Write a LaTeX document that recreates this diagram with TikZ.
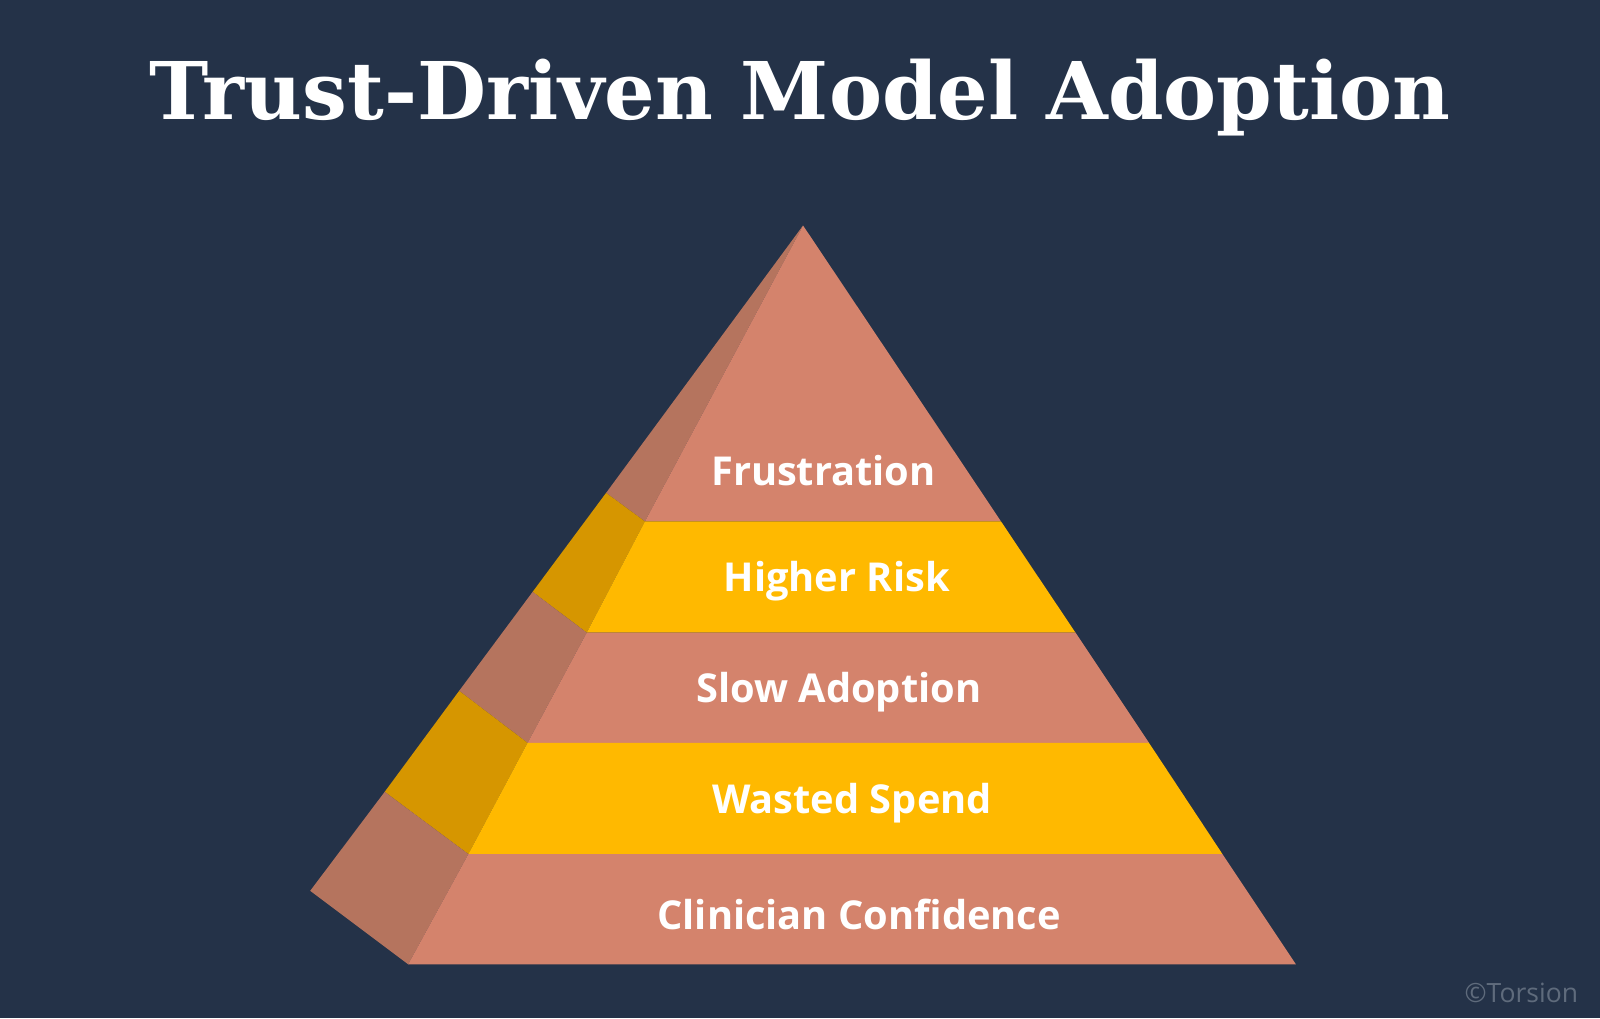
\documentclass[tikz,border=0pt]{standalone}
\usepackage{fontspec}
\setmainfont{DejaVu Serif}
\newfontfamily\labfont{Open Sans}
\definecolor{bg}{HTML}{243248}
\definecolor{sal}{HTML}{D4836C}
\definecolor{yel}{HTML}{FFB900}
\definecolor{ssal}{HTML}{B5745E}
\definecolor{syel}{HTML}{D69600}
\definecolor{cgray}{HTML}{5F6B7C}
\tikzset{lab/.style={text=white,font=\labfont\bfseries\fontsize{39}{41}\selectfont}}
\begin{document}
\begin{tikzpicture}[x=1pt,y=-1pt]
\fill[bg] (0,0) rectangle (1568,998);
\useasboundingbox (0,0) rectangle (1568,998);
\node[text=white,font=\bfseries\fontsize{78}{88}\selectfont] (title) at (784,96) {Trust-Driven Model Adoption};
% side face bands
\coordinate (A) at (787,221);
\fill[ssal] (A) -- (594,483) -- (632,511) -- cycle;
\fill[syel] (594,483) -- (522,580) -- (575,620) -- (632,511) -- cycle;
\fill[ssal] (522,580) -- (450,677) -- (517,728) -- (575,620) -- cycle;
\fill[syel] (450,677) -- (377,776) -- (459,837) -- (517,728) -- cycle;
\fill[ssal] (377,776) -- (304,873) -- (400,945) -- (459,837) -- cycle;
% front bands
\fill[sal] (A) -- (632,511) -- (981,511) -- cycle;
\fill[yel] (632,511) -- (575,620) -- (1054,620) -- (981,511) -- cycle;
\fill[sal] (575,620) -- (517,728) -- (1126,728) -- (1054,620) -- cycle;
\fill[yel] (517,728) -- (459,837) -- (1198,837) -- (1126,728) -- cycle;
\fill[sal] (459,837) -- (400,945) -- (1270,945) -- (1198,837) -- cycle;
\node[lab] (l1) at (807,461) {Frustration};
\node[lab] (l2) at (820,570) {Higher Risk};
\node[lab] (l3) at (822,678) {Slow Adoption};
\node[lab] (l4) at (835,787) {Wasted Spend};
\node[lab] (l5) at (842,896) {Clinician Confidence};
\node[text=cgray,font=\labfont\fontsize{26}{28}\selectfont,anchor=east] (c) at (1550,973) {©Torsion};
\end{tikzpicture}
\end{document}
